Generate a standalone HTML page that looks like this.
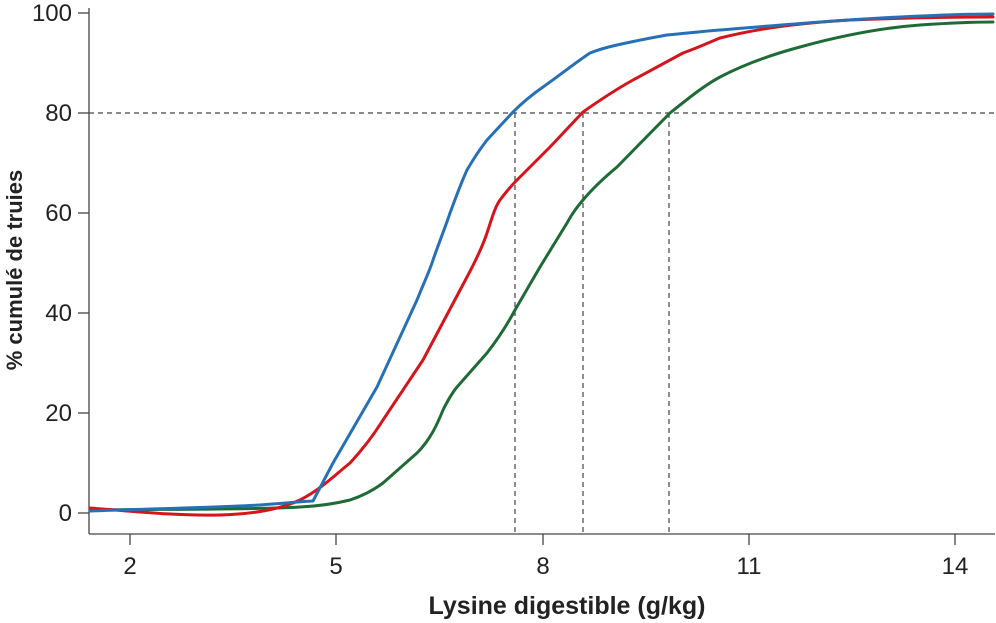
<!DOCTYPE html>
<html><head><meta charset="utf-8"><style>body{margin:0;background:#fff}svg{display:block}</style></head><body>
<svg width="996" height="623" viewBox="0 0 996 623" xmlns="http://www.w3.org/2000/svg" font-family="Liberation Sans, sans-serif">
<g stroke="#444" stroke-width="1.3" fill="none">
<line x1="89" y1="8" x2="89" y2="534"/>
<line x1="89" y1="534" x2="995" y2="534"/>
<line x1="78" y1="513" x2="89" y2="513"/><line x1="78" y1="413" x2="89" y2="413"/><line x1="78" y1="313" x2="89" y2="313"/><line x1="78" y1="213" x2="89" y2="213"/><line x1="78" y1="113" x2="89" y2="113"/><line x1="78" y1="13" x2="89" y2="13"/>
<line x1="130" y1="534" x2="130" y2="545"/><line x1="336" y1="534" x2="336" y2="545"/><line x1="543" y1="534" x2="543" y2="545"/><line x1="749" y1="534" x2="749" y2="545"/><line x1="955" y1="534" x2="955" y2="545"/>
</g>
<g stroke="#444" stroke-width="1.2" stroke-dasharray="5,4" fill="none">
<line x1="89" y1="113" x2="995" y2="113"/>
<line x1="515" y1="113" x2="515" y2="534"/><line x1="583" y1="113" x2="583" y2="534"/><line x1="669" y1="113" x2="669" y2="534"/>
</g>
<g font-size="24" fill="#222" text-anchor="end">
<text x="72" y="521">0</text><text x="72" y="421">20</text><text x="72" y="321">40</text><text x="72" y="221">60</text><text x="72" y="121">80</text><text x="72" y="21">100</text>
</g>
<g font-size="24" fill="#222" text-anchor="middle">
<text x="130" y="574">2</text><text x="336" y="574">5</text><text x="543" y="574">8</text><text x="749" y="574">11</text><text x="955" y="574">14</text>
</g>
<text x="567" y="614" font-size="25" font-weight="bold" fill="#222" text-anchor="middle">Lysine digestible (g/kg)</text>
<text transform="translate(22,270) rotate(-90)" font-size="22" font-weight="bold" fill="#222" text-anchor="middle">% cumulé de truies</text>
<g fill="none" stroke-width="3" stroke-linejoin="round" stroke-linecap="round">
<path stroke="#1e6b35" d="M90,510 C200,509 270,509 300,507 C320,506 338,503 350,500 C365,495 375,489 383,483 L417,453 C430,440 437,425 443,410 C448,400 452,393 457,387 L487,353 C497,340 507,325 515,310 L540,267 L567,223 C573,212 578,206 583,200 C593,188 605,177 617,167 L670,113 C690,97 705,85 720,77 C745,64 770,55 800,47 C840,36 880,28 920,25 C950,23 975,22 993,22"/>
<path stroke="#d6141b" d="M90,508 C140,512 180,516 220,515 C260,514 285,507 300,500 C320,490 335,475 350,463 C362,450 373,436 383,420 L423,360 L467,277 C475,262 482,248 487,233 C492,218 495,207 500,200 C506,192 511,186 517,180 L550,147 L583,112 C600,100 615,90 633,80 L683,53 C700,47 710,42 720,38 C760,28 800,23 850,20 C900,18 950,17 993,17"/>
<path stroke="#2670b5" d="M90,511 C150,509 230,507 260,505 C290,503 305,501 313,501 L333,463 L377,387 L417,300 C425,280 430,270 433,260 C440,240 445,228 450,213 C456,197 461,183 467,170 C474,158 480,149 487,140 L513,112 C523,102 533,94 543,87 C560,75 575,63 590,53 C600,49 608,47 617,45 C635,41 650,38 667,35 C690,33 705,31 720,30 C780,25 850,19 900,17 C940,15 970,14 993,14"/>
</g>
</svg>
</body></html>
